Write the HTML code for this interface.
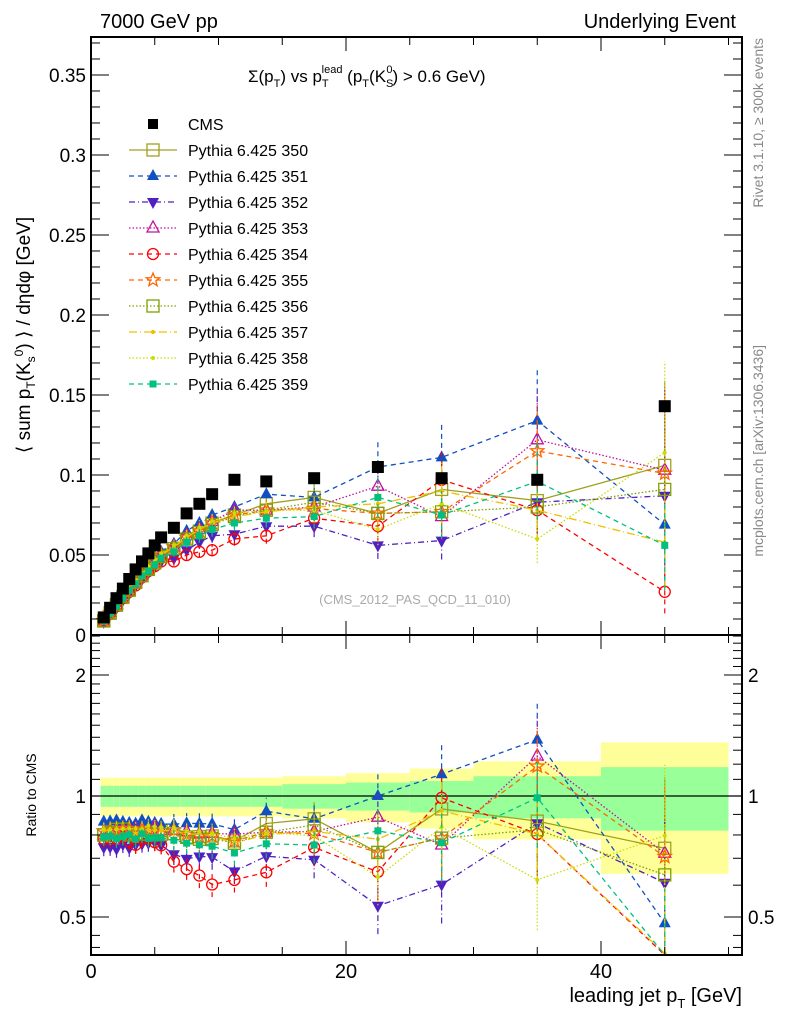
<!DOCTYPE html>
<html><head><meta charset="utf-8"><style>
body{margin:0;background:#fff}
svg{display:block;font-family:"Liberation Sans",sans-serif}
</style></head><body>
<svg id="c" width="786" height="1024" viewBox="0 0 786 1024">
<g id="bands"></g>
<g id="series"></g>
<g id="axes"></g>
<text x="100" y="28" font-size="20">7000 GeV pp</text>
<text x="736" y="28" font-size="20" text-anchor="end">Underlying Event</text>
<text x="248" y="82" font-size="17">Σ(p<tspan font-size="11" dy="5">T</tspan><tspan dy="-5">) vs p</tspan><tspan font-size="11" dy="5">T</tspan><tspan font-size="11" dx="-7" dy="-14">lead</tspan><tspan dy="9"> (p</tspan><tspan font-size="11" dy="5">T</tspan><tspan dy="-5">(K</tspan><tspan font-size="11" dy="5">S</tspan><tspan font-size="11" dx="-7" dy="-14">0</tspan><tspan dy="9">) &gt; 0.6 GeV)</tspan></text>
<text transform="translate(30,335) rotate(-90)" font-size="19" text-anchor="middle">⟨ sum p<tspan font-size="12" dy="5">T</tspan><tspan dy="-5">(K</tspan><tspan font-size="12" dy="5">s</tspan><tspan font-size="12" dy="-12">0</tspan><tspan dy="7">) ⟩ / dηdφ [GeV]</tspan></text>
<text transform="translate(36,795) rotate(-90)" font-size="14" text-anchor="middle">Ratio to CMS</text>
<text x="742" y="1002" font-size="20" text-anchor="end">leading jet p<tspan font-size="13" dy="6">T</tspan><tspan dy="-6"> [GeV]</tspan></text>
<text transform="translate(763,38) rotate(-90)" font-size="14" fill="#888" text-anchor="end">Rivet 3.1.10, ≥ 300k events</text>
<text transform="translate(763,345) rotate(-90)" font-size="14" fill="#888" text-anchor="end">mcplots.cern.ch [arXiv:1306.3436]</text>
<text x="415" y="604" font-size="13" fill="#aaa" text-anchor="middle">(CMS_2012_PAS_QCD_11_010)</text>
<g id="legend"></g>
</svg>
<script>
const xs=[1,1.5,2,2.5,3,3.5,4,4.5,5,5.5,6.5,7.5,8.5,9.5,11.25,13.75,17.5,22.5,27.5,35,45];
const binLo=[0.75,1.25,1.75,2.25,2.75,3.25,3.75,4.25,4.75,5.25,6,7,8,9,10,12.5,15,20,25,30,40];
const binHi=[1.25,1.75,2.25,2.75,3.25,3.75,4.25,4.75,5.25,6,7,8,9,10,12.5,15,20,25,30,40,50];
const cms=[0.011,0.017,0.023,0.029,0.035,0.041,0.046,0.051,0.056,0.061,0.067,0.076,0.082,0.088,0.097,0.096,0.098,0.105,0.098,0.097,0.143];
const errFrac=[0.05,0.05,0.05,0.05,0.05,0.05,0.05,0.05,0.05,0.05,0.06,0.06,0.07,0.07,0.07,0.08,0.1,0.15,0.2,0.25,0.5];
const greenHalf=[0.06,0.06,0.06,0.06,0.06,0.06,0.06,0.06,0.06,0.06,0.06,0.06,0.06,0.06,0.06,0.06,0.07,0.08,0.09,0.12,0.18];
const yellowHalf=[0.11,0.11,0.11,0.11,0.11,0.11,0.11,0.11,0.11,0.11,0.11,0.11,0.11,0.11,0.11,0.11,0.12,0.14,0.17,0.22,0.36];
const s350=[0.0088,0.0136,0.0186,0.0235,0.0285,0.033,0.038,0.042,0.046,0.050,0.054,0.060,0.065,0.070,0.075,0.082,0.086,0.076,0.091,0.084,0.106];
const s351=[0.0095,0.0147,0.020,0.025,0.030,0.035,0.040,0.044,0.048,0.052,0.057,0.065,0.070,0.075,0.080,0.088,0.086,0.105,0.111,0.134,0.069];
const s352=[0.0082,0.0127,0.017,0.022,0.026,0.031,0.035,0.039,0.043,0.046,0.048,0.053,0.058,0.062,0.063,0.068,0.068,0.056,0.059,0.083,0.087];
const s353=[0.0088,0.014,0.019,0.024,0.029,0.034,0.038,0.042,0.047,0.050,0.055,0.062,0.066,0.071,0.078,0.078,0.080,0.093,0.074,0.122,0.103];
const s354=[0.0086,0.0133,0.018,0.023,0.027,0.031,0.036,0.040,0.043,0.046,0.046,0.050,0.052,0.053,0.060,0.062,0.073,0.068,0.097,0.078,0.027];
const s355=[0.0090,0.014,0.019,0.024,0.029,0.033,0.038,0.042,0.046,0.050,0.055,0.061,0.065,0.070,0.075,0.078,0.079,0.076,0.077,0.115,0.101];
const s356=[0.0088,0.0138,0.019,0.024,0.028,0.033,0.037,0.041,0.045,0.049,0.054,0.060,0.064,0.069,0.074,0.078,0.083,0.076,0.077,0.080,0.091];
const s357=[0.0090,0.014,0.019,0.024,0.029,0.033,0.038,0.042,0.046,0.050,0.055,0.061,0.066,0.070,0.074,0.077,0.080,0.082,0.090,0.078,0.058];
const s358=[0.0091,0.014,0.019,0.024,0.029,0.034,0.038,0.043,0.047,0.051,0.056,0.062,0.067,0.071,0.076,0.078,0.078,0.066,0.082,0.060,0.114];
const s359=[0.0087,0.0135,0.018,0.023,0.028,0.032,0.037,0.040,0.044,0.048,0.052,0.058,0.062,0.066,0.070,0.073,0.074,0.086,0.075,0.096,0.056];
const mainTicks=[0,0.05,0.1,0.15,0.2,0.25,0.3,0.35];
const mainTickLabels=["0","0.05","0.1","0.15","0.2","0.25","0.3","0.35"];
const ratioTicks=[0.5,1,2];
const xTicks=[0,20,40];

const NS="http://www.w3.org/2000/svg";
const L=91,R=742,T=37,M=635,B=955;
const X=v=>L+v*12.75;
const Y=v=>M-v*1600;
const RY=v=>796-Math.log2(v)*121;
const clampR=y=>Math.max(M,Math.min(B,y));
function el(tag,attrs,parent){const e=document.createElementNS(NS,tag);for(const k in attrs)e.setAttribute(k,attrs[k]);parent.appendChild(e);return e;}
const gB=document.getElementById('bands'),gS=document.getElementById('series'),gA=document.getElementById('axes'),gL=document.getElementById('legend');

for(let i=0;i<xs.length;i++){
  const y1=el('rect',{x:X(binLo[i]),width:X(binHi[i])-X(binLo[i]),y:RY(1+yellowHalf[i]),height:RY(1-yellowHalf[i])-RY(1+yellowHalf[i]),fill:'#ffff99'},gB);
  
  
  const g1=el('rect',{x:X(binLo[i]),width:X(binHi[i])-X(binLo[i]),y:RY(1+greenHalf[i]),height:RY(1-greenHalf[i])-RY(1+greenHalf[i]),fill:'#99ff99'},gB);
  
  
}
el('line',{x1:L,x2:R,y1:RY(1),y2:RY(1),stroke:'#000','stroke-width':1.2},gB);

const series=[
 {n:'350',d:s350,c:'#a0a020',dash:'',m:'sqo'},
 {n:'351',d:s351,c:'#1050c0',dash:'5,4',m:'tri'},
 {n:'352',d:s352,c:'#5020c0',dash:'6,3,1,3',m:'itri'},
 {n:'353',d:s353,c:'#c010a0',dash:'1.5,2',m:'trio'},
 {n:'354',d:s354,c:'#ff0000',dash:'5,4',m:'circ'},
 {n:'355',d:s355,c:'#ff6600',dash:'5,4',m:'star'},
 {n:'356',d:s356,c:'#80a000',dash:'1.5,2',m:'sqo'},
 {n:'357',d:s357,c:'#f0c000',dash:'8,3,1,3',m:'dot'},
 {n:'358',d:s358,c:'#ccdd00',dash:'1.5,2',m:'dot'},
 {n:'359',d:s359,c:'#00c080',dash:'5,4',m:'sq'}
];
function marker(type,x,y,c,g){
  const sw=1.3;
  if(type==='sqo')return el('rect',{x:x-6,y:y-6,width:12,height:12,fill:'none',stroke:c,'stroke-width':sw},g);
  if(type==='sq')return el('rect',{x:x-3.5,y:y-3.5,width:7,height:7,fill:c},g);
  if(type==='tri')return el('polygon',{points:`${x},${y-7} ${x-6},${y+4} ${x+6},${y+4}`,fill:c},g);
  if(type==='trio')return el('polygon',{points:`${x},${y-7} ${x-6},${y+4} ${x+6},${y+4}`,fill:'none',stroke:c,'stroke-width':sw},g);
  if(type==='itri')return el('polygon',{points:`${x},${y+7} ${x-6},${y-4} ${x+6},${y-4}`,fill:c},g);
  if(type==='circ')return el('circle',{cx:x,cy:y,r:5.5,fill:'none',stroke:c,'stroke-width':sw},g);
  if(type==='star'){let p=[];for(let k=0;k<10;k++){const r=k%2?3:7,a=-Math.PI/2+k*Math.PI/5;p.push((x+r*Math.cos(a)).toFixed(1)+','+(y+r*Math.sin(a)).toFixed(1));}return el('polygon',{points:p.join(' '),fill:'none',stroke:c,'stroke-width':sw},g);}
  if(type==='dot')return el('circle',{cx:x,cy:y,r:2,fill:c},g);
  if(type==='cms')return el('rect',{x:x-6,y:y-6,width:12,height:12,fill:'#000'},g);
}
series.forEach(s=>{
  const g=el('g',{},gS);
  
  
  const pm=xs.map((x,i)=>X(x)+','+Y(s.d[i])).join(' ');
  el('polyline',{points:pm,fill:'none',stroke:s.c,'stroke-width':1.3,'stroke-dasharray':s.dash},g);
  const pr=xs.map((x,i)=>X(x)+','+clampR(RY(s.d[i]/cms[i]))).join(' ');
  const cp=el('clipPath',{id:'cr'+s.n},g);el('rect',{x:L,y:M,width:R-L,height:B-M},cp);
  el('polyline',{points:pr,fill:'none',stroke:s.c,'stroke-width':1.3,'stroke-dasharray':s.dash,'clip-path':'url(#cr'+s.n+')'},g);
  xs.forEach((x,i)=>{
    const v=s.d[i],e=v*errFrac[i];
    el('line',{x1:X(x),x2:X(x),y1:Y(v-e),y2:Y(v+e),stroke:s.c,'stroke-width':1.2,'stroke-dasharray':s.dash},g);
    const rv=v/cms[i];
    el('line',{x1:X(x),x2:X(x),y1:clampR(RY(Math.max(rv*(1-errFrac[i]),0.01))),y2:clampR(RY(rv*(1+errFrac[i]))),stroke:s.c,'stroke-width':1.2,'stroke-dasharray':s.dash},g);
    const m=marker(s.m,X(x),Y(v),s.c,g);
    
    
    const ry=RY(rv);
    if(ry>=M&&ry<=B){const m2=marker(s.m,X(x),ry,s.c,g);
      
      }
  });
});
const gc=el('g',{},gS);


xs.forEach((x,i)=>{
  const m=marker('cms',X(x),Y(cms[i]),'#000',gc);
  
  
});

el('rect',{x:L,y:T,width:R-L,height:M-T,fill:'none',stroke:'#000','stroke-width':2},gA);
el('rect',{x:L,y:M,width:R-L,height:B-M,fill:'none',stroke:'#000','stroke-width':2},gA);
for(let v=0;v<=51;v+=5){
  const big=v%20===0;
  [[T,1],[M,-1],[M,1],[B,-1]].forEach(([y,dir])=>el('line',{x1:X(v),x2:X(v),y1:y,y2:y+dir*(big?14:8),stroke:'#000','stroke-width':1},gA));
}
xTicks.forEach(v=>{const t=el('text',{x:X(v),y:978,'font-size':20,'text-anchor':'middle'},gA);t.textContent=v;
  
  });
for(let k=0;k<=37;k++){
  const v=k*0.01,big=k%5===0;
  el('line',{x1:L,x2:L+(big?18:9),y1:Y(v),y2:Y(v),stroke:'#000'},gA);
  el('line',{x1:R,x2:R-(big?18:9),y1:Y(v),y2:Y(v),stroke:'#000'},gA);
}
mainTicks.forEach((v,i)=>{const t=el('text',{x:L-5,y:Y(v)+7,'font-size':19,'text-anchor':'end'},gA);t.textContent=mainTickLabels[i];
  
  });
const minorR=[0.5,0.6,0.7,0.8,0.9,1,1.1,1.2,1.3,1.4,1.5,1.6,1.7,1.8,1.9,2,2.1,2.2,2.3,2.4,2.5,0.45,0.42];
minorR.forEach(v=>{const big=ratioTicks.includes(v);const y=RY(v);if(y<M||y>B)return;
  el('line',{x1:L,x2:L+(big?18:9),y1:y,y2:y,stroke:'#000'},gA);
  el('line',{x1:R,x2:R-(big?18:9),y1:y,y2:y,stroke:'#000'},gA);});
ratioTicks.forEach(v=>{
  const t=el('text',{x:L-5,y:RY(v)+7,'font-size':19,'text-anchor':'end'},gA);t.textContent=v;
  
  
  const t2=el('text',{x:R+6,y:RY(v)+7,'font-size':19},gA);t2.textContent=v;
  
  
});
const lg=[{n:'CMS',m:'cms',c:'#000',dash:null}].concat(series.map(s=>({n:'Pythia 6.425 '+s.n,m:s.m,c:s.c,dash:s.dash})));
lg.forEach((e,i)=>{
  const y=124+i*26;
  const g=el('g',{},gL);
  
  
  if(e.dash!==null)el('line',{x1:129,x2:177,y1:y,y2:y,stroke:e.c,'stroke-width':1.3,'stroke-dasharray':e.dash},g);
  if(e.m==='cms')el('rect',{x:148,y:y-5,width:10,height:10,fill:'#000'},g);else marker(e.m,153,y,e.c,g);
  const t=el('text',{x:188,y:y+6,'font-size':16},g);t.textContent=e.n;
});
</script>
</body></html>
